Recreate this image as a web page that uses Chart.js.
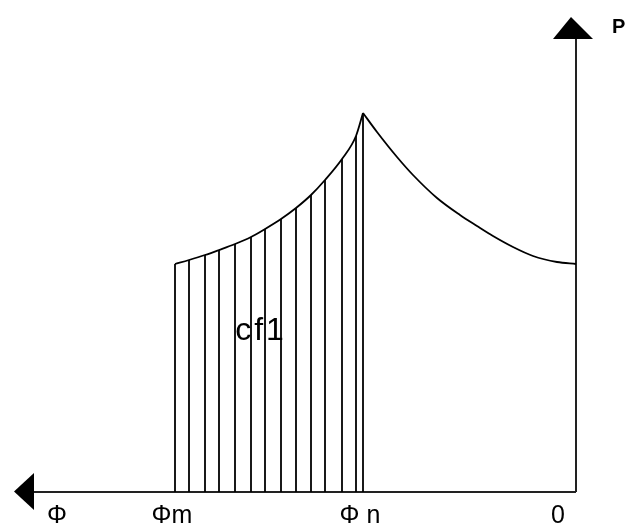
<!DOCTYPE html>
<html>
<head>
<meta charset="utf-8">
<script src="https://cdn.jsdelivr.net/npm/chart.js@4.4.1/dist/chart.umd.min.js"></script>
<style>
  body { margin: 0; background: #fff; }
  #wrap { width: 628px; height: 532px; }
</style>
</head>
<body>
<div id="wrap"><canvas id="diagram"></canvas></div>
<script>
// --- Data (Φ grows to the left, P grows up, origin at the corner)
var leftPhi = [4.01, 3.87, 3.71, 3.57, 3.41, 3.25, 3.11, 2.95, 2.80, 2.65, 2.51, 2.34, 2.20, 2.13];
var leftP   = [2.28, 2.32, 2.37, 2.42, 2.48, 2.55, 2.63, 2.73, 2.84, 2.97, 3.12, 3.33, 3.56, 3.79];
var rightPhi = [2.13, 1.99, 1.79, 1.63, 1.39, 1.16, 0.99, 0.83, 0.63, 0.43, 0.19, 0.00];
var rightP   = [3.79, 3.60, 3.35, 3.17, 2.94, 2.77, 2.66, 2.56, 2.45, 2.36, 2.30, 2.28];

var tickLabels = ['0', 'Φ n', 'Φm', 'Φ'];
var tickPhi = [0.18, 2.16, 4.04, 5.19];
var areaLabel = 'cf1';
var axisLabel = 'P';

var xAxisEnd = 5.42;   // where the Φ axis meets its arrow
var yAxisEnd = 4.53;   // where the P axis meets its arrow

function zip(xs, ys) {
    return xs.map(function (x, i) { return { x: x, y: ys[i] }; });
}

// arrow heads as images for pointStyle
function arrowImage(w, h, dir) {
    var c = document.createElement('canvas');
    c.width = w; c.height = h;
    var g = c.getContext('2d');
    g.fillStyle = '#000';
    g.beginPath();
    if (dir === 'up') {
        g.moveTo(w / 2 - 2, 0); g.lineTo(w, h); g.lineTo(0, h);
    } else {
        g.moveTo(0, h / 2); g.lineTo(w, 0); g.lineTo(w, h);
    }
    g.closePath();
    g.fill();
    return c;
}

var lineStyle = { showLine: true, pointRadius: 0, borderColor: '#000', borderWidth: 1.8, fill: false, tension: 0 };
var curveStyle = { cubicInterpolationMode: 'monotone', tension: 0.4 };

var datasets = [];
// hatching under the left curve
leftPhi.forEach(function (phi, i) {
    datasets.push(Object.assign({}, lineStyle, { data: [{ x: phi, y: 0 }, { x: phi, y: leftP[i] }] }));
});
datasets.push(Object.assign({}, lineStyle, curveStyle, { data: zip(leftPhi, leftP) }));
datasets.push(Object.assign({}, lineStyle, curveStyle, { data: zip(rightPhi, rightP) }));
// axes
datasets.push(Object.assign({}, lineStyle, { borderColor: '#222', borderWidth: 2, data: [{ x: 0, y: 0 }, { x: xAxisEnd, y: 0 }] }));
datasets.push(Object.assign({}, lineStyle, { borderColor: '#222', borderWidth: 2, data: [{ x: 0, y: 0 }, { x: 0, y: yAxisEnd }] }));
// arrow heads
datasets.push({ data: [{ x: 0.03, y: 4.64 }], pointStyle: arrowImage(40, 22, 'up'), pointRadius: 20 });
datasets.push({ data: [{ x: 5.52, y: 0.005 }], pointStyle: arrowImage(20, 37, 'left'), pointRadius: 20 });

// text labels placed through the scales
var labelPlugin = {
    id: 'labels',
    afterDatasetsDraw: function (chart) {
        var ctx = chart.ctx, xs = chart.scales.x, ys = chart.scales.y;
        ctx.save();
        ctx.fillStyle = '#000';
        ctx.textAlign = 'center';
        ctx.textBaseline = 'middle';
        ctx.font = '25px "Liberation Sans", Arial, sans-serif';
        tickLabels.forEach(function (t, i) {
            ctx.fillText(t, xs.getPixelForValue(tickPhi[i]), ys.getPixelForValue(-0.245));
        });
        ctx.font = '32px "Liberation Sans", Arial, sans-serif';
        ctx.letterSpacing = '3px';
        ctx.fillText(areaLabel, xs.getPixelForValue(3.15), ys.getPixelForValue(1.61));
        ctx.letterSpacing = '0px';
        ctx.textAlign = 'left';
        ctx.font = 'bold 20px "Liberation Sans", Arial, sans-serif';
        ctx.fillText(axisLabel, xs.getPixelForValue(-0.36), ys.getPixelForValue(4.65));
        ctx.restore();
    }
};

new Chart(document.getElementById('diagram'), {
    type: 'scatter',
    data: { datasets: datasets },
    options: {
        responsive: true,
        maintainAspectRatio: false,
        animation: false,
        layout: { padding: 0, autoPadding: false },
        plugins: { legend: { display: false }, tooltip: { enabled: false } },
        scales: {
            x: { type: 'linear', reverse: true, min: -0.52, max: 5.76, display: false },
            y: { type: 'linear', min: -0.40, max: 4.92, display: false }
        }
    },
    plugins: [labelPlugin]
});
</script>
</body>
</html>
